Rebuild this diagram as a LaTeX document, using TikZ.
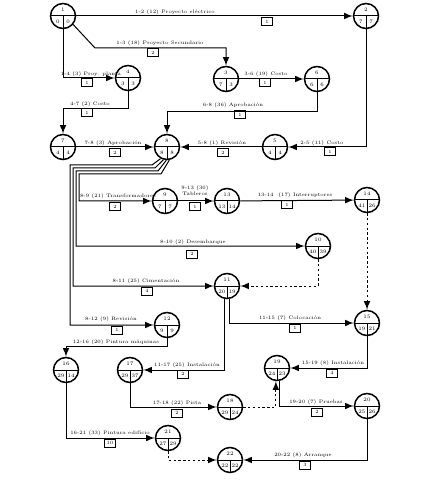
\documentclass[tikz,border=0pt]{standalone}
\newcommand{\evento}[4]{%
  \node[evt] (n#1) at (#2) {};
  \draw (n#1.west) -- (n#1.east) (n#1.center) -- (n#1.south);
  \node[num] (n#1a) at ([yshift=3pt]n#1.center) {#1};
  \node[num] (n#1b) at ([xshift=-2.6pt,yshift=-2.8pt]n#1.center) {#3};
  \node[num] (n#1c) at ([xshift=2.6pt,yshift=-2.8pt]n#1.center) {#4};
}
\begin{document}
\begin{tikzpicture}[x=0.5pt,y=-0.5pt,line width=0.5pt,>=latex,
    evt/.style={circle,draw,line width=0.75pt,minimum size=12.5pt,inner sep=0pt},
    num/.style={inner sep=0pt,font=\fontsize{2.6}{3}\selectfont},
    lbl/.style={inner sep=0.5pt,font=\fontsize{2.5}{2.9}\selectfont},
    cbox/.style={draw,inner sep=0.5pt,minimum width=5.5pt,minimum height=4pt,font=\fontsize{2.4}{2.8}\selectfont},
    ficticia/.style={->,dash pattern=on 1.2pt off 1.2pt}]
  \useasboundingbox (0,0) rectangle (441,480);
  \evento{1}{63,16}{0}{0}
  \evento{2}{366,16}{7}{7}
  \evento{3}{226,79}{7}{3}
  \evento{4}{128,78}{3}{3}
  \evento{5}{275,147}{4}{4}
  \evento{6}{317,79}{6}{6}
  \evento{7}{63,147}{4}{4}
  \evento{8}{167,147}{8}{8}
  \evento{9}{165,201}{7}{7}
  \evento{13}{227,201}{13}{14}
  \evento{14}{367,200}{41}{26}
  \evento{10}{318,246}{40}{39}
  \evento{11}{227,286}{20}{19}
  \evento{12}{167,325}{9}{9}
  \evento{15}{367,323}{19}{21}
  \evento{16}{66,370}{29}{14}
  \evento{17}{130,370}{29}{37}
  \evento{19}{277,368}{24}{23}
  \evento{18}{230,407}{29}{24}
  \evento{20}{367,406}{25}{26}
  \evento{21}{168,438}{27}{29}
  \evento{22}{230,460}{22}{22}
  \draw[->] (n1) -- (n2);
  \draw[->] (n1.-40) -- (95,48) -| (n3);
  \draw[->] (n1) |- (n4);
  \draw[->] (n3) -- (n6);
  \draw[->] (n4.south) -- ++(0,17) -| (n7);
  \draw[->] (n6.south) -- ++(0,19) -| (n8);
  \draw[->] (n7) -- (n8);
  \draw[->] (n2) |- (n5);
  \draw[->] (n5) -- (n8);
  \draw[->] (n8.-80) -- (161,174) -- (79,174) |- (n9);
  \draw[->] (n8.-93) -- (158,171) -- (76,171) |- (n10);
  \draw[->] (n8.-106) -- (155,168) -- (73,168) |- (n11);
  \draw[->] (n8.-119) -- (152,165) -- (70,165) |- (n12);
  \draw[->] (n9) -- (n13);
  \draw[->] (n13) -- (n14);
  \draw[ficticia] (n14) -- (n15);
  \draw[ficticia] (n10) |- (n11);
  \draw[->] (n11.-77) |- (n15);
  \draw[->] (n11.-103) |- (n17);
  \draw[->] (n12.south) -- ++(0,8) -| (n16);
  \draw[->] (n15) |- (n19);
  \draw[->] (n17) |- (n18);
  \draw[ficticia] (n18) -| (n19.-95);
  \draw[->] (n19.-80) |- (n20);
  \draw[->] (n16) |- (n21);
  \draw[ficticia] (n21) |- (n22);
  \draw[->] (n20) |- (n22);
  \node[lbl] (t12) at (175,12) {1-2 (12) Proyecto eléctrico};
  \node[cbox] (b12) at (267,22) {1};
  \node[lbl] (t13) at (160,43) {1-3 (18) Proyecto Secundario};
  \node[cbox] (b13) at (153,53) {2};
  \node[lbl] (t14) at (91,74) {1-4 (3) Proy. planta};
  \node[cbox] (b14) at (87,83) {1};
  \node[lbl] (t36) at (266,74) {3-6 (19) Costo};
  \node[cbox] (b36) at (265,83) {1};
  \node[lbl] (t47) at (90,104) {4-7 (2) Costo};
  \node[cbox] (b47) at (87,113) {1};
  \node[lbl] (t68) at (233,105) {6-8 (36) Aprobación};
  \node[cbox] (b68) at (240,115) {1};
  \node[lbl] (t78) at (113,143) {7-8 (3) Aprobación};
  \node[cbox] (b78) at (115,153) {2};
  \node[lbl] (t58) at (222,143) {5-8 (1) Revisión};
  \node[cbox] (b58) at (223,153) {2};
  \node[lbl] (t25) at (322,143) {2-5 (11) Costo};
  \node[cbox] (b25) at (330,152) {1};
  \node[lbl] (t89) at (118,196) {8-9 (21) Transformadores};
  \node[cbox] (b89) at (115,207) {2};
  \node[lbl,align=center] (t913) at (195,191) {9-13 (30)\\Tableros};
  \node[cbox] (b913) at (195,207) {1};
  \node[lbl] (t1314) at (295,195) {13-14 \enspace (17) Interruptores};
  \node[cbox] (b1314) at (287,205) {1};
  \node[lbl] (t810) at (193,242) {8-10 (2) Desembarque};
  \node[cbox] (b810) at (192,254) {2};
  \node[lbl] (t811) at (146,281) {8-11 (25) Cimentación};
  \node[cbox] (b811) at (147,291) {4};
  \node[lbl] (t812) at (111,319) {8-12 (9) Revisión};
  \node[cbox] (b812) at (117,330) {1};
  \node[lbl] (t1216) at (116,342) {12-16 (20) Pintura máquinas};
  \node[lbl] (t1115) at (290,318) {11-15 (7) Colocación};
  \node[cbox] (b1115) at (295,328) {1};
  \node[lbl] (t1117) at (187,365) {11-17 (25) Instalación};
  \node[cbox] (b1117) at (183,374) {2};
  \node[lbl] (t1519) at (333,363) {15-19 (8) Instalación};
  \node[cbox] (b1519) at (332,373) {4};
  \node[lbl] (t1718) at (177,403) {17-18 (22) Pista};
  \node[cbox] (b1718) at (177,413) {2};
  \node[lbl] (t1920) at (316,402) {19-20 (7) Pruebas};
  \node[cbox] (b1920) at (317,412) {2};
  \node[lbl] (t1621) at (110,433) {16-21 (33) Pintura edificio};
  \node[cbox] (b1621) at (110,443) {10};
  \node[lbl] (t2022) at (303,455) {20-22 (8) Arranque};
  \node[cbox] (b2022) at (305,465) {3};
\end{tikzpicture}
\end{document}
